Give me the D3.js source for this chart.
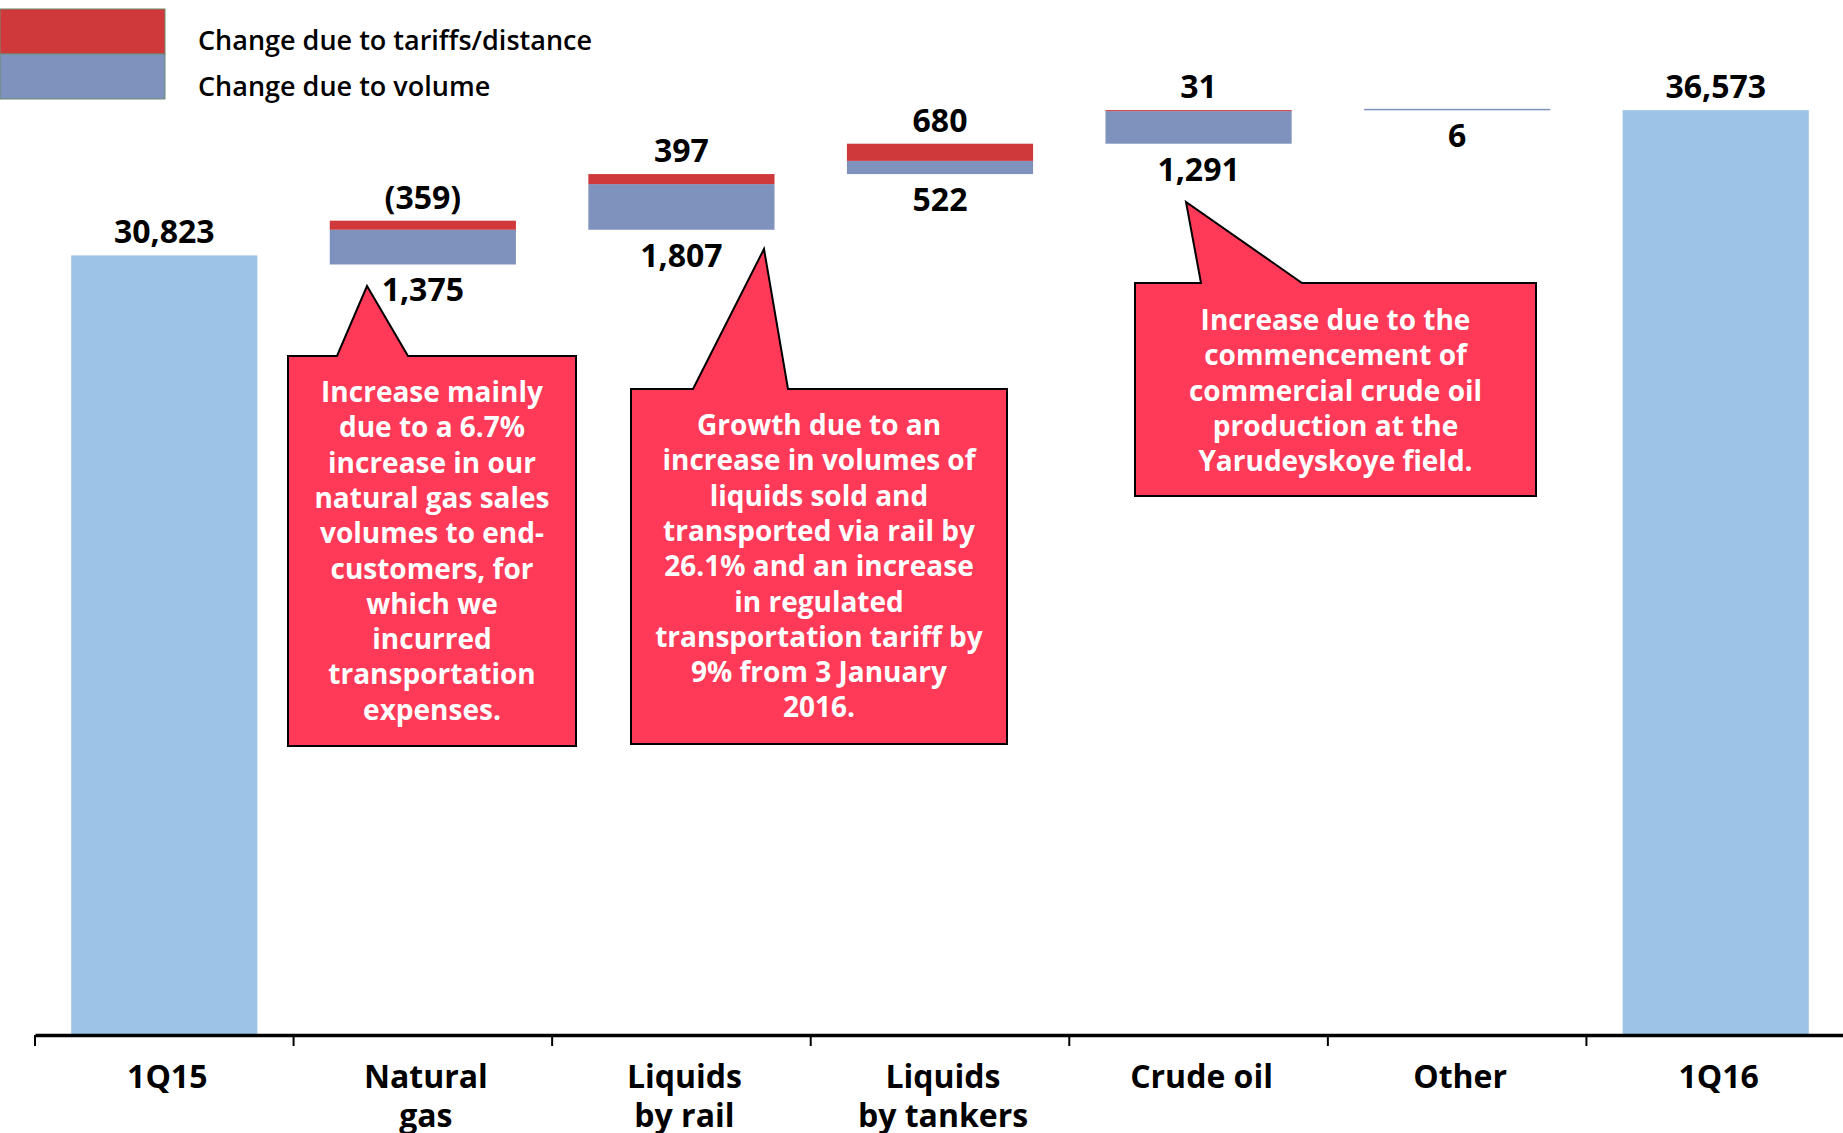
<!DOCTYPE html>
<meta charset="utf-8">
<style>
    body { margin: 0; background: #fff; }
    svg text { font-family: 'Open Sans', sans-serif; }
    .val { font-size: 32px; font-weight: 700; fill: #000; text-anchor: middle; }
    .cat { font-size: 32px; font-weight: 700; fill: #000; text-anchor: middle; }
    .legend-label { font-size: 27px; font-weight: 600; fill: #000; }
    .note { font-size: 28px; font-weight: 700; fill: #fff; text-anchor: middle; }
    .callout { fill: #fe3a58; stroke: #000; stroke-width: 2; stroke-linejoin: miter; }
</style>
<svg width="1843" height="1133"></svg>
<script src="https://d3js.org/d3.v7.min.js"></script>
<script>
    // data
    var categories = ["1Q15", "Natural gas", "Liquids by rail", "Liquids by tankers", "Crude oil", "Other", "1Q16"];
    var categoryLines = [["1Q15"], ["Natural", "gas"], ["Liquids", "by rail"], ["Liquids", "by tankers"], ["Crude oil"], ["Other"], ["1Q16"]];
    var totals = [30823, null, null, null, null, null, 36573];
    var tariffChange = [null, -359, 397, 680, 31, 0, null];
    var volumeChange = [null, 1375, 1807, 522, 1291, 6, null];
    var seriesNames = ["Change due to tariffs/distance", "Change due to volume"];

    var notes = [
        ["Increase mainly", "due to a 6.7%", "increase in our", "natural gas sales", "volumes to end-", "customers, for", "which we", "incurred", "transportation", "expenses."],
        ["Growth due to an", "increase in volumes of", "liquids sold and", "transported via rail by", "26.1% and an increase", "in regulated", "transportation tariff by", "9% from 3 January", "2016."],
        ["Increase due to the", "commencement of", "commercial crude oil", "production at the", "Yarudeyskoye field."]
    ];

    var colTotal = "#9dc3e6", colVolume = "#7f91bd", colTariff = "#cf393b";

    var svg = d3.select("svg");
    var x = d3.scaleBand().domain(categories).range([35, 1845]);
    var y = d3.scaleLinear().domain([0, 40000]).range([1034, 1034 - 40000 * 0.02526]);
    var barPad = x.bandwidth() * 0.14, barW = x.bandwidth() * 0.72;
    var fmt = function(v) { return v < 0 ? "(" + d3.format(",")(-v) + ")" : d3.format(",")(v); };

    // build waterfall pieces
    var pieces = [], labels = [];
    var running = totals[0];
    categories.forEach(function(c, i) {
        if (totals[i] != null) {
            pieces.push({cat: c, y0: 0, y1: totals[i], color: colTotal, min: 0});
            labels.push({cat: c, y: y(totals[i]) - 12, text: fmt(totals[i])});
            running = totals[i];
            return;
        }
        var t = tariffChange[i], v = volumeChange[i];
        var base = running + Math.min(0, t) + Math.min(0, v);
        var vTop = base + Math.abs(v), tTop = vTop + Math.abs(t);
        pieces.push({cat: c, y0: base, y1: vTop, color: colVolume, min: 1.5});
        if (t !== 0) pieces.push({cat: c, y0: vTop, y1: tTop, color: colTariff, min: 1});
        if (t !== 0) labels.push({cat: c, y: y(tTop) - 12, text: fmt(t)});
        labels.push({cat: c, y: y(base) + 37, text: fmt(v)});
        running += t + v;
    });

    svg.append("g").selectAll("rect")
        .data(pieces)
        .enter().append("rect")
        .attr("x", function(d) { return x(d.cat) + barPad; })
        .attr("width", barW)
        .attr("y", function(d) { return Math.min(y(d.y1), y(d.y0) - d.min); })
        .attr("height", function(d) { return Math.max(y(d.y0) - y(d.y1), d.min); })
        .attr("fill", function(d) { return d.color; });

    svg.append("g").selectAll("text")
        .data(labels)
        .enter().append("text")
        .attr("class", "val")
        .attr("x", function(d) { return x(d.cat) + x.bandwidth() / 2; })
        .attr("y", function(d) { return d.y; })
        .text(function(d) { return d.text; });

    // axis
    var axis = svg.append("g").attr("transform", "translate(0," + y(0) + ")");
    axis.call(d3.axisBottom(x).tickSize(0).tickSizeOuter(0).tickFormat(""));
    axis.select(".domain").attr("stroke", "#000").attr("stroke-width", 3.5).attr("transform", "translate(0,1)");
    axis.selectAll(".boundary")
        .data(categories)
        .enter().append("line")
        .attr("class", "boundary")
        .attr("x1", function(d) { return x(d); })
        .attr("x2", function(d) { return x(d); })
        .attr("y1", 1).attr("y2", 12)
        .attr("stroke", "#000").attr("stroke-width", 2);

    var catG = svg.append("g").selectAll("text")
        .data(categories)
        .enter().append("text")
        .attr("class", "cat")
        .attr("x", function(d) { return x(d) + x.bandwidth() / 2 + 3; })
        .attr("y", 1088);
    catG.selectAll("tspan")
        .data(function(d, i) { return categoryLines[i]; })
        .enter().append("tspan")
        .attr("x", function() { return this.parentNode.getAttribute("x"); })
        .attr("dy", function(d, i) { return i ? 39 : 0; })
        .text(function(d) { return d; });

    // legend
    var legend = svg.append("g");
    legend.selectAll("rect")
        .data([colTariff, colVolume])
        .enter().append("rect")
        .attr("x", 0).attr("y", function(d, i) { return 9 + i * 45; })
        .attr("width", 165).attr("height", 45)
        .attr("fill", function(d) { return d; })
        .attr("stroke", "#6e8a6e").attr("stroke-width", 1);
    legend.selectAll("text")
        .data(seriesNames)
        .enter().append("text")
        .attr("class", "legend-label")
        .attr("x", 198).attr("y", function(d, i) { return 50 + i * 46; })
        .text(function(d) { return d; });

    // callouts
    var callouts = [
        {box: [288, 356, 576, 746], notch: [337, 408], tip: [367, 286], first: 402},
        {box: [631, 389, 1007, 744], notch: [693, 788], tip: [764, 249], first: 435},
        {box: [1135, 283, 1536, 496], notch: [1201, 1302], tip: [1186, 202], first: 330}
    ];
    callouts.forEach(function(c, i) {
        var b = c.box;
        var p = d3.path();
        p.moveTo(b[0], b[1]);
        p.lineTo(c.notch[0], b[1]);
        p.lineTo(c.tip[0], c.tip[1]);
        p.lineTo(c.notch[1], b[1]);
        p.lineTo(b[2], b[1]);
        p.lineTo(b[2], b[3]);
        p.lineTo(b[0], b[3]);
        p.closePath();
        svg.append("path").attr("class", "callout").attr("d", p.toString());
        svg.append("g").selectAll("text")
            .data(notes[i])
            .enter().append("text")
            .attr("class", "note")
            .attr("x", (b[0] + b[2]) / 2)
            .attr("y", function(d, j) { return c.first + j * 35.3; })
            .text(function(d) { return d; });
    });
</script>
